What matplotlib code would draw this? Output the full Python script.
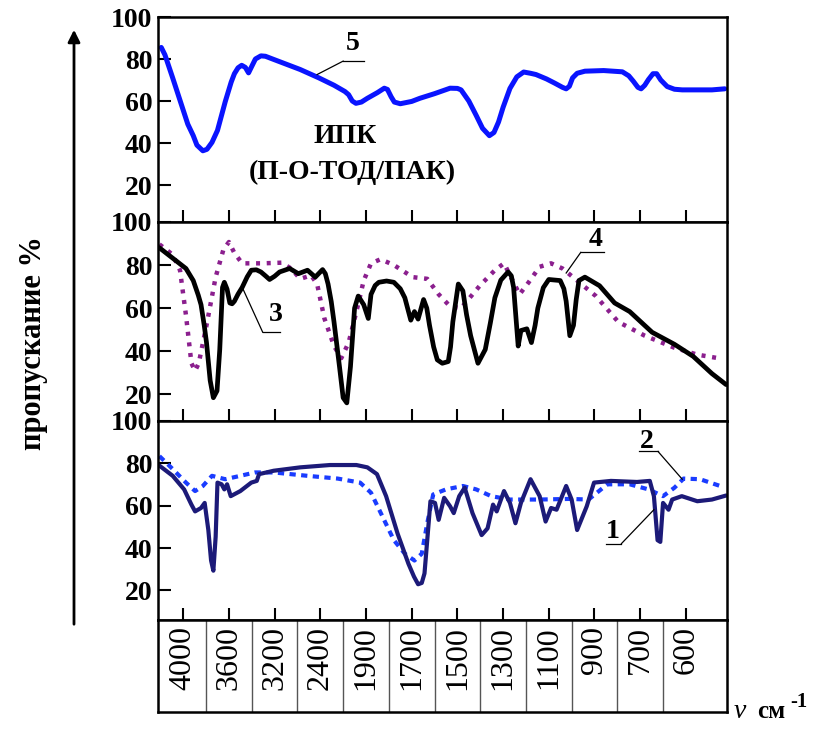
import matplotlib
matplotlib.use('Agg')
import matplotlib.pyplot as plt

plt.rcParams['font.family'] = ['Liberation Serif', 'DejaVu Serif']

# x positions are in units of the label grid: 0 -> 4000 cm-1, 11 -> 600 cm-1
wn_labels = ['4000', '3600', '3200', '2400', '1900', '1700', '1500',
             '1300', '1100', '900', '700', '600']

# curve 5 - ИПК (П-О-ТОД/ПАК)
x5 = [-0.48, -0.4, -0.23, -0.05, 0.1, 0.22, 0.3, 0.43, 0.52, 0.63, 0.75,
      0.92, 1.05, 1.12, 1.2, 1.28, 1.36, 1.43, 1.5, 1.58, 1.7, 1.8, 1.98,
      2.56, 2.97, 3.3, 3.54, 3.62, 3.7, 3.78, 3.9, 4.03, 4.25, 4.4, 4.47,
      4.55, 4.62, 4.75, 5.0, 5.18, 5.5, 5.84, 6.0, 6.08, 6.25, 6.41, 6.55,
      6.7, 6.8, 6.9, 7.0, 7.15, 7.3, 7.45, 7.6, 7.72, 7.95, 8.13, 8.3, 8.38,
      8.45, 8.52, 8.62, 8.79, 9.2, 9.61, 9.75, 9.85, 9.95, 10.02, 10.1, 10.18,
      10.28, 10.36, 10.45, 10.59, 10.75, 10.92, 11.57, 11.85]
y5 = [85.5, 82, 71, 59, 49, 43.5, 39, 36.3, 37, 40.3, 46,
      59.7, 69, 73, 75.8, 77, 76, 73.4, 76.5, 80, 81.5, 81.3, 79.8,
      75, 71, 67.5, 64.5, 63, 60, 58.9, 59.5, 61.3, 64, 66.1, 65.5,
      62, 59.5, 58.7, 59.8, 61.3, 63.5, 66.1, 66, 65.3, 60, 53.2, 47,
      43.5, 45, 50, 57, 66, 71.5, 73.8, 73.2, 72.6, 70.5, 68.5, 66.5, 65.8,
      67, 71, 73.2, 74.2, 74.5, 73.9, 72, 69.4, 66.5, 65.8, 67.5, 70.2,
      73, 73, 70, 66.9, 65.6, 65.3, 65.3, 65.8]

# curve 3 - solid black
x3 = [-0.52, -0.23, 0.06, 0.22, 0.33, 0.39, 0.46, 0.51, 0.59, 0.66, 0.74,
      0.8, 0.86, 0.9, 0.96, 1.02, 1.07, 1.12, 1.2, 1.29, 1.4, 1.49, 1.6, 1.7,
      1.8, 1.89, 2.0, 2.11, 2.33, 2.52, 2.72, 2.89, 3.05, 3.11, 3.17, 3.24,
      3.3, 3.42, 3.5, 3.58, 3.66, 3.75, 3.83, 3.95, 4.05, 4.11, 4.2, 4.28,
      4.45, 4.61, 4.75, 4.85, 4.98, 5.06, 5.14, 5.26, 5.33, 5.39, 5.48, 5.56,
      5.67, 5.8, 5.85, 5.9, 6.02, 6.12, 6.2, 6.29, 6.45, 6.61, 6.72, 6.82,
      6.95, 7.11, 7.18, 7.23, 7.28, 7.33, 7.39, 7.52, 7.62, 7.7, 7.76, 7.88,
      8.0, 8.25, 8.33, 8.38, 8.46, 8.54, 8.6, 8.66, 8.79, 9.11, 9.44, 9.77,
      10.26, 10.75, 11.16, 11.57, 11.88]
y3 = [88, 83.2, 78.4, 72.8, 66, 61.6, 52, 44, 26.4, 18.4, 21.6,
      40.8, 69.6, 72, 68.8, 62.4, 62, 63.2, 66.5, 69.6, 74.5, 77.6, 77.8, 76.8,
      75, 73.3, 74.8, 76.8, 78.4, 76, 77.6, 74.4, 77.9, 76, 71.2, 63,
      53.6, 32.8, 18.4, 16, 32.8, 60, 65.6, 61.6, 55.2, 66.4, 70.5, 72,
      72.6, 72, 69, 64.8, 54.4, 58.4, 54.9, 64, 60, 52, 42, 36,
      34.4, 35.2, 42, 53.6, 71.2, 68, 57, 47.2, 34.4, 40.8, 53, 64.8,
      73, 76.8, 75, 69.6, 56, 42.4, 49.6, 50.4, 44, 52, 60, 69.5,
      73.3, 72.8, 69, 63.2, 47.2, 52, 64, 72.8, 74.4, 70.4, 62.4, 58.4,
      48.8, 43.2, 37.6, 29.6, 24.5]

# curve 4 - dotted purple
x4 = [-0.52, -0.23, -0.07, 0.06, 0.18, 0.26, 0.34, 0.51, 0.71, 0.88, 1.0,
      1.12, 1.29, 1.74, 2.15, 2.36, 2.56, 2.8, 2.93, 3.09, 3.3, 3.46, 3.62,
      3.79, 3.95, 4.11, 4.32, 4.61, 5.02, 5.34, 5.59, 5.84, 6.08, 6.49, 6.82,
      7.02, 7.19, 7.36, 7.56, 7.8, 8.05, 8.3, 8.62, 9.03, 9.52, 10.1, 10.75,
      11.25, 11.7]
y4 = [89.6, 84.8, 77.6, 56.8, 34.4, 30.9, 34.4, 52, 74.4, 87.2, 90.7,
      85.6, 80.8, 80.8, 81.1, 78.4, 73.6, 75.2, 71.2, 55.2, 42.4, 36.8, 44,
      58.4, 72.8, 80.8, 82.7, 80, 74.4, 73.6, 66.4, 60.8, 60, 70.4, 77.6,
      80.8, 73.6, 66.4, 72, 79.2, 80.8, 78.4, 72.8, 65.6, 53.6, 47.2, 41.6,
      38.4, 36.8]

# curve 1 - solid navy
x1 = [-0.52, -0.23, 0.02, 0.18, 0.26, 0.39, 0.47, 0.55, 0.61, 0.66, 0.71,
      0.75, 0.84, 0.9, 0.96, 1.04, 1.25, 1.49, 1.61, 1.66, 1.98, 2.56, 3.21,
      3.79, 4.03, 4.24, 4.44, 4.69, 4.93, 5.05, 5.14, 5.22, 5.28, 5.34, 5.41,
      5.51, 5.59, 5.71, 5.84, 5.92, 6.04, 6.16, 6.33, 6.53, 6.66, 6.78, 6.86,
      7.02, 7.15, 7.27, 7.39, 7.6, 7.8, 7.93, 8.05, 8.17, 8.38, 8.5, 8.62,
      8.83, 8.99, 9.36, 9.93, 10.21, 10.3, 10.38, 10.44, 10.5, 10.62, 10.7,
      10.91, 11.25, 11.57, 11.88]
y1 = [78.9, 74.1, 67.7, 60.5, 57.3, 58.9, 61.3, 48.5, 34.1, 29.3, 45.3,
      70.9, 70.1, 67.7, 70.1, 64.5, 66.9, 70.9, 71.7, 74.9, 76.5, 78.1, 79.2,
      79.2, 78.1, 74.9, 64.5, 46.9, 32.5, 26.5, 22.9, 23.5, 28, 43.7, 62.1,
      61.3, 53.3, 63.7, 59.7, 56.5, 64.5, 68.5, 56.5, 46.1, 49.3, 60.5, 57.3,
      66.9, 61.3, 51.7, 61.3, 72.5, 64.5, 52.5, 58.9, 58.1, 69.3, 62.9, 48.5,
      59.7, 70.9, 71.7, 71.2, 71.7, 64.5, 43.7, 42.9, 61.3, 58.1, 62.9,
      64.5, 62.1, 62.9, 64.8]

# curve 2 - dotted blue
x2 = [-0.52, -0.23, 0.06, 0.26, 0.43, 0.63, 0.92, 1.25, 1.57, 1.98, 2.72,
      3.38, 3.87, 4.11, 4.36, 4.61, 4.85, 5.06, 5.22, 5.34, 5.47, 5.75, 6.12,
      6.41, 6.74, 7.15, 7.8, 8.46, 8.87, 9.28, 9.77, 10.18, 10.5, 10.75,
      10.95, 11.31, 11.75]
y2 = [83.4, 77.3, 70.9, 66.9, 69.3, 74.1, 72.5, 74.1, 75.7, 75.7, 74.1,
      72.8, 70.9, 66.1, 54.9, 43.7, 37.3, 34.1, 37.3, 51.7, 65.3, 67.7, 69.3,
      67.7, 64.5, 62.9, 62.9, 63.2, 62.9, 70.1, 70.1, 67.7, 64.5, 68.5,
      72.8, 72.5, 69.3]

XLIM = (-0.55, 11.9)
LEFT, WIDTH = 0.193, 0.6947

fig = plt.figure(figsize=(8.19, 7.36), dpi=100)
ax1 = fig.add_axes([LEFT, 0.6984, WIDTH, 0.2785])
ax2 = fig.add_axes([LEFT, 0.428, WIDTH, 0.2704])
ax3 = fig.add_axes([LEFT, 0.1576, WIDTH, 0.2704])
axl = fig.add_axes([LEFT, 0.0326, WIDTH, 0.125])

ax1.plot(x5, y5, color='#0a14ff', lw=3.6, solid_capstyle='round',
         solid_joinstyle='round')
ax2.plot(x4, y4, color='#8b1f8e', lw=3.2, linestyle=(0, (0.9, 1.5)))
ax2.plot(x3, y3, color='black', lw=3.4, solid_capstyle='round',
         solid_joinstyle='round')
ax3.plot(x2, y2, color='#1a3cff', lw=3.0, linestyle=(0, (1.5, 1.3)))
ax3.plot(x1, y1, color='#1c1a78', lw=3.0, solid_capstyle='round',
         solid_joinstyle='round')

ylims = [(2.4, 100), (7.6, 100), (6, 100)]
for ax, yl in zip([ax1, ax2, ax3], ylims):
    ax.set_xlim(*XLIM)
    ax.set_ylim(*yl)
    ax.set_xticks(range(len(wn_labels)))
    ax.set_xticklabels([])
    ax.set_yticks([20, 40, 60, 80, 100])
    ax.set_yticklabels(['20', '40', '60', '80', '100'],
                       fontsize=20, fontweight='bold')
    ax.tick_params(direction='in', length=9, width=1.5, pad=4)
    for s in ax.spines.values():
        s.set_linewidth(1.8)

# curve labels with leader lines
def leader(ax, label, tx, ty, hx0, hx1, hy, cx, cy, left_end=True):
    sx = hx0 if left_end else hx1
    ax.plot([cx, sx], [cy, hy], color='black', lw=0.9)
    ax.plot([hx0, hx1], [hy, hy], color='black', lw=0.9)
    ax.text(tx, ty, label, fontsize=20, fontweight='bold',
            ha='center', va='center')

leader(ax1, '5', 3.7, 87.5, 3.5, 3.95, 79, 2.93, 72.6)
leader(ax2, '4', 9.03, 92, 8.7, 9.2, 85.9, 8.38, 76.3)
leader(ax2, '3', 2.02, 57, 1.74, 2.11, 48.8, 1.31, 68.8)
leader(ax3, '2', 10.14, 90.5, 9.98, 10.39, 85.6, 10.92, 72.5, left_end=False)
leader(ax3, '1', 9.4, 48, 9.26, 9.59, 42.1, 10.3, 58.1, left_end=False)

ax1.text(3.54, 43, 'ИПК', fontsize=20, fontweight='bold', ha='center', va='center')
ax1.text(3.7, 26, '(П-О-ТОД/ПАК)', fontsize=20, fontweight='bold',
         ha='center', va='center')

# wavenumber label box
axl.set_xlim(*XLIM)
axl.set_ylim(0, 1)
axl.set_xticks([])
axl.set_yticks([])
for s in axl.spines.values():
    s.set_linewidth(1.8)
for i in range(len(wn_labels) - 1):
    axl.axvline(i + 0.5, color='#555555', lw=1)
for i, lab in enumerate(wn_labels):
    axl.text(i, 0.93, lab, rotation=90, fontsize=23, ha='center', va='top')

# axis captions
fig.text(34 / 819, 1 - 343 / 736, 'пропускание %', rotation=90,
         fontsize=22, fontweight='bold', ha='center', va='center')
ax1.annotate('', xy=(74 / 819, 1 - 27 / 736), xycoords='figure fraction',
             xytext=(74 / 819, 1 - 627 / 736), textcoords='figure fraction',
             arrowprops=dict(arrowstyle='-|>', lw=2, color='black',
                             mutation_scale=18))
fig.text(740 / 819, 1 - 718 / 736, 'ν', fontsize=20, style='italic',
         ha='center', va='baseline')
fig.text(771 / 819, 1 - 718 / 736, 'см', fontsize=18, fontweight='bold',
         ha='center', va='baseline')
fig.text(799 / 819, 1 - 707 / 736, '-1', fontsize=15, fontweight='bold',
         ha='center', va='baseline')

fig.savefig('out.png', dpi=100)
plt.close()
